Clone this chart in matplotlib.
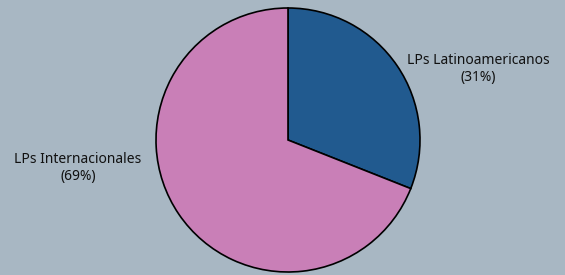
import matplotlib
matplotlib.use("Agg")
import matplotlib.pyplot as plt

# Data
labels = ["LPs Latinoamericanos", "LPs Internacionales"]
shares = [31, 69]
colors = ["#215a8f", "#c97fb7"]
bg = "#a8b7c3"

fig = plt.figure(figsize=(5.65, 2.75), dpi=100, facecolor=bg)
ax = fig.add_axes([0, 0, 1, 1])
ax.set_facecolor(bg)

# Pie drawn in pixel-like coordinates
ax.pie(shares, colors=colors, startangle=90, counterclock=False,
       radius=132, center=(288, 135),
       wedgeprops=dict(edgecolor="black", linewidth=1.2))

ax.set_xlim(0, 565)
ax.set_ylim(0, 275)
ax.set_aspect("equal")
ax.axis("off")

# Labels
font = dict(fontsize=10, family="Noto Sans", ha="center", va="center", color="#111111")
ax.text(478, 206, f"{labels[0]}\n({shares[0]}%)", **font, linespacing=1.25)
ax.text(78, 107, f"{labels[1]}\n({shares[1]}%)", **font, linespacing=1.25)

fig.savefig("out.png", dpi=100, facecolor=bg)
